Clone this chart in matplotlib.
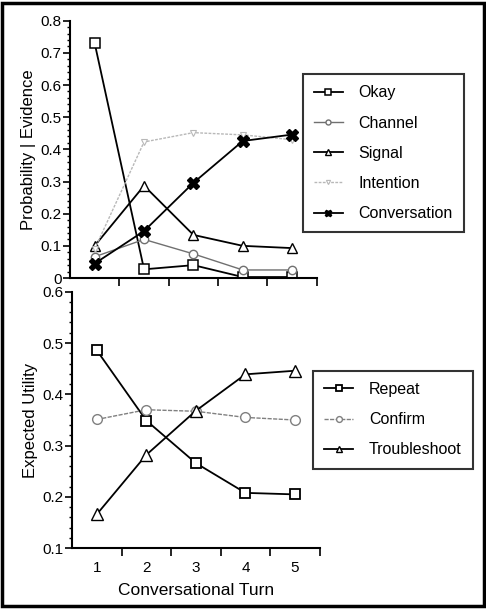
import matplotlib.pyplot as plt
from matplotlib.patches import Rectangle
from matplotlib.ticker import MultipleLocator, FuncFormatter

plt.rcParams['font.family'] = ['Liberation Sans', 'DejaVu Sans']

turns = [1, 2, 3, 4, 5]

# belief at each level, given the evidence so far
okay = [0.73, 0.027, 0.040, 0.003, 0.003]
channel = [0.066, 0.120, 0.075, 0.025, 0.025]
signal = [0.100, 0.287, 0.134, 0.100, 0.093]
intention = [0.09, 0.423, 0.452, 0.445, 0.43]
conversation = [0.045, 0.146, 0.296, 0.426, 0.446]

# expected utility of each repair action
repeat = [0.486, 0.349, 0.266, 0.208, 0.205]
confirm = [0.351, 0.370, 0.367, 0.355, 0.350]
troubleshoot = [0.166, 0.282, 0.368, 0.439, 0.446]

fig = plt.figure(figsize=(4.86, 6.09), dpi=100)
ax1 = fig.add_axes([0.144, 0.5435, 0.508, 0.4225])
ax2 = fig.add_axes([0.148, 0.0997, 0.510, 0.4213])


def fmt(v, pos):
    return '0' if abs(v) < 1e-9 else f'{v:.1f}'


def style_axes(ax, ymin, ymax):
    for s in ['top', 'right']:
        ax.spines[s].set_visible(False)
    for s in ['left', 'bottom']:
        ax.spines[s].set_linewidth(1.5)
    ax.set_xlim(0.5, 5.5)
    ax.set_ylim(ymin, ymax)
    ax.yaxis.set_major_locator(MultipleLocator(0.1))
    ax.yaxis.set_minor_locator(MultipleLocator(0.02))
    ax.yaxis.set_major_formatter(FuncFormatter(fmt))
    ax.tick_params(axis='y', which='major', direction='out', length=5, width=1.2,
                   labelsize=11, pad=1)
    ax.tick_params(axis='y', which='minor', direction='out', length=2, width=1)
    ax.set_xticks(turns)
    ax.set_xticks([1.5, 2.5, 3.5, 4.5, 5.5], minor=True)
    ax.tick_params(axis='x', which='major', length=0, labelsize=11, pad=9)
    ax.tick_params(axis='x', which='minor', direction='out', length=6, width=1.2)


style_axes(ax1, 0, 0.8)
ax1.set_xticklabels([])
style_axes(ax2, 0.1, 0.6)

lw = 1.3
ax1.plot(turns, okay, color='black', lw=lw, marker='s', ms=6.5, mfc='white', mec='black', mew=1.1, label='Okay')
ax1.plot(turns, channel, color='#707070', lw=1.0, marker='o', ms=6, mfc='white', mec='#707070', mew=1.0, label='Channel')
ax1.plot(turns, signal, color='black', lw=lw, marker='^', ms=7.5, mfc='white', mec='black', mew=1.0, label='Signal')
ax1.plot(turns, intention, color='#b8b8b8', lw=1.0, ls=(0, (2, 1)), marker='v', ms=5, mfc='white', mec='#b8b8b8', mew=0.8, label='Intention')
ax1.plot(turns, conversation, color='black', lw=lw, marker='X', ms=8, mfc='black', mec='black', label='Conversation')

ax2.plot(turns, repeat, color='black', lw=lw, marker='s', ms=7.5, mfc='white', mec='black', mew=1.3, label='Repeat')
ax2.plot(turns, confirm, color='#808080', lw=1.0, ls=(0, (3, 1)), marker='o', ms=7, mfc='white', mec='#808080', mew=1.0, label='Confirm')
ax2.plot(turns, troubleshoot, color='black', lw=lw, marker='^', ms=8, mfc='white', mec='black', mew=1.0, label='Troubleshoot')

ax1.set_ylabel('Probability | Evidence', fontsize=12, labelpad=3)
ax2.set_ylabel('Expected Utility', fontsize=12, labelpad=3)
ax2.set_xlabel('Conversational Turn', fontsize=12.5, labelpad=6)

leg_kw = dict(loc='upper left', bbox_transform=fig.transFigure, fontsize=11.5,
              frameon=True, fancybox=False, handlelength=1.8, handletextpad=1.0,
              labelspacing=0.95, borderpad=0.7, markerscale=0.6, borderaxespad=0)
leg1 = ax1.legend(bbox_to_anchor=(0.623, 0.878), **leg_kw)
leg2 = ax2.legend(bbox_to_anchor=(0.644, 0.391), **leg_kw)
for leg in (leg1, leg2):
    leg.get_frame().set_edgecolor('black')
    leg.get_frame().set_linewidth(1.5)

fig.patches.append(Rectangle((0.005, 0.005), 0.99, 0.99, transform=fig.transFigure,
                             fill=False, edgecolor='black', lw=2.5))

fig.savefig('out.png', dpi=100)
